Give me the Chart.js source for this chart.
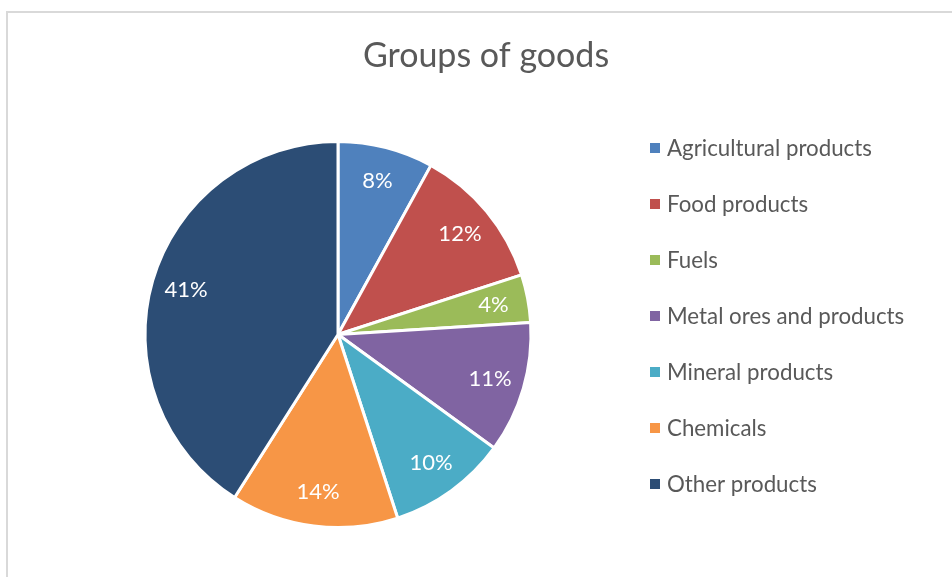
<!DOCTYPE html>
<html>
<head>
<meta charset="utf-8">
<script src="https://cdn.jsdelivr.net/npm/chart.js@4"></script>
<style>
  body { margin: 0; overflow: hidden; background: #fff; }
  #wrap { position: relative; width: 952px; height: 577px; }
  #frame { position: absolute; left: 6px; top: 11px; width: 1000px; height: 1000px;
           border: 2px solid #d9d9d9; pointer-events: none; }
</style>
</head>
<body>
<div id="wrap">
  <canvas id="myChart" width="952" height="577"></canvas>
  <div id="frame"></div>
</div>
<script>
// Datos del grafico
const categories = ['Agricultural products', 'Food products', 'Fuels', 'Metal ores and products',
                    'Mineral products', 'Chemicals', 'Other products'];
const shares = [8, 12, 4, 11, 10, 14, 41];
const colors = ['#4F81BD', '#C0504D', '#9BBB59', '#8064A2', '#4BACC6', '#F79646', '#2C4D75'];
const chartTitle = 'Groups of goods';

const FONT = 'Lato, "Open Sans", sans-serif';

// etiquetas de porcentaje, titulo y leyenda
const extras = {
    id: 'extras',
    afterDatasetsDraw(chart) {
        const c = chart.ctx;
        const meta = chart.getDatasetMeta(0);
        c.save();
        c.fillStyle = '#fff';
        c.font = '22px ' + FONT;
        c.textAlign = 'center';
        c.textBaseline = 'middle';
        meta.data.forEach((arc, i) => {
            const p = arc.getProps(['x', 'y', 'startAngle', 'endAngle', 'outerRadius'], true);
            const mid = (p.startAngle + p.endAngle) / 2;
            const r = p.outerRadius * 0.82;
            c.fillText(shares[i] + '%', p.x + Math.cos(mid) * r, p.y + Math.sin(mid) * r);
        });

        // titulo
        c.fillStyle = '#595959';
        c.font = '34px ' + FONT;
        c.fillText(chartTitle, 486, 56);

        // leyenda
        c.textAlign = 'left';
        c.font = '22.3px ' + FONT;
        categories.forEach((name, i) => {
            const y = 148 + i * 56;
            c.fillStyle = colors[i];
            c.fillRect(650, y - 5, 10, 10);
            c.fillStyle = '#595959';
            c.fillText(name, 667, y + 1);
        });
        c.restore();
    }
};

const ctx = document.getElementById('myChart').getContext('2d');
const myChart = new Chart(ctx, {
    type: 'pie',
    data: {
        labels: categories,
        datasets: [{
            data: shares,
            backgroundColor: colors,
            borderColor: '#fff',
            borderWidth: 3
        }]
    },
    options: {
        responsive: false,
        animation: false,
        layout: {
            padding: { left: 143, right: 419, top: 140, bottom: 48 }
        },
        plugins: {
            legend: { display: false },
            tooltip: { enabled: false }
        }
    },
    plugins: [extras]
});
</script>
</body>
</html>
